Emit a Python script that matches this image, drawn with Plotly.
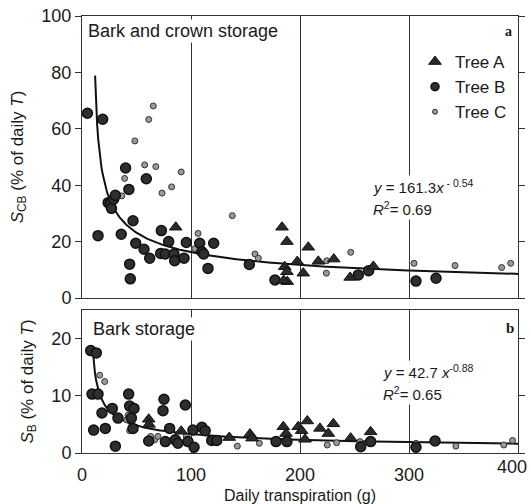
import numpy as np
import plotly.graph_objects as go
from plotly.subplots import make_subplots

# ---------------- data ----------------
# Panel a: bark and crown storage S_CB (% of daily T)
top_A_x = [86, 183.5, 188, 207.6, 186, 188, 197.5, 203, 188.3, 185, 216.8, 231, 246, 267.3]
top_A_y = [25.1, 25.1, 20.0, 18.0, 11.1, 9.3, 12.9, 8.8, 5.8, 6.2, 13.0, 13.8, 7.3, 11.2]

top_B_x = [5, 19, 14.7, 24, 26, 27, 29, 30.6, 40, 43, 46.8, 36, 43.7, 44.3, 49.3, 56.9, 59,
           62.1, 72.8, 72.2, 76.4, 79.5, 84.4, 85, 93.6, 95.7, 108, 110, 111.6, 115.6, 120.8,
           153.5, 177, 253.5, 263, 306.4, 324.8]
top_B_y = [65.5, 63.4, 22.1, 33.8, 33.6, 31.8, 35.0, 36.4, 46.1, 38.5, 27.4, 22.6, 12.0, 6.8,
           19.4, 17.3, 42.3, 14.1, 23.9, 15.8, 15.6, 20.0, 15.6, 13.2, 14.1, 19.7, 19.4, 16.4,
           15.6, 10.5, 19.4, 11.9, 6.4, 8.2, 9.7, 6.0, 7.0]

top_C_x = [65.4, 61.2, 48.5, 57.5, 67.7, 91, 82.2, 73.4, 39.1, 36.5, 137.9, 106.5, 158.7,
           161.8, 224.2, 224.5, 246.5, 304.6, 342.2, 385, 393.3, 103.5]
top_C_y = [68.1, 63.3, 55.7, 47.2, 46.6, 44.7, 39.4, 37.2, 42.4, 36.2, 29.2, 22.9, 15.6,
           14.1, 8.8, 13.2, 16.2, 12.3, 11.5, 10.8, 12.3, 17.5]

# Panel b: bark storage S_B (% of daily T)
bot_A_x = [61.2, 61.5, 91, 135.1, 154.1, 156, 184.7, 187.2, 198.4, 201.5, 206.7, 204.6,
           218.3, 230.6, 226, 246.5, 264.8]
bot_A_y = [5.9, 5.0, 3.8, 2.7, 3.3, 2.6, 4.6, 3.4, 4.6, 3.9, 5.6, 2.4, 4.3, 5.1, 3.4, 2.6, 3.7]

bot_B_x = [8, 13.1, 9.2, 14.7, 10.7, 21.4, 18.3, 27.8, 30.6, 33, 42.8, 43.7, 47.7, 45.3,
           46.8, 75.2, 74.3, 94.8, 61.2, 76.5, 80.4, 85.6, 88, 97.2, 102.8, 101.8, 110, 113,
           119, 123.6, 178, 188, 255.7, 264.8, 306.4, 323.9]
bot_B_y = [17.9, 17.5, 10.3, 10.3, 4.0, 4.3, 7.0, 7.8, 1.2, 6.1, 10.3, 8.2, 7.8, 6.1, 4.3,
           9.4, 7.4, 8.4, 2.1, 2.0, 4.3, 2.3, 1.7, 2.0, 1.0, 4.0, 4.5, 3.9, 2.2, 2.2, 2.0, 2.0,
           1.1, 2.0, 1.0, 2.1]

bot_C_x = [16.2, 20.8, 42.2, 41, 43.7, 63, 66.7, 69.7, 95.7, 142.5, 162.7, 225, 233.6, 255,
           306.4, 343, 387, 395]
bot_C_y = [13.6, 12.5, 6.6, 5.8, 3.9, 2.9, 2.3, 2.9, 2.9, 1.2, 1.7, 1.4, 1.8, 2.0, 1.7,
           1.2, 1.4, 2.2]

# fitted trend curves as drawn: y = a * (x - c) ** b
fit_top = dict(a=118.0, c=9.5, b=-0.44, x0=12, x1=400)
fit_bot = dict(a=30.4, c=7.0, b=-0.49, x0=10, x1=400)

x_ticks = [0, 100, 200, 300, 400]
x_tick_labels = ["0", "100", "200", "300", ""]   # "400" is placed as a note (kept inside the page)
top_y_ticks = [0, 20, 40, 60, 80, 100]
bot_y_ticks = [0, 10, 20]

# ---------------- figure ----------------
W, H = 531, 504
ML, MR, MT, MB = 82, 13, 16, 51
plot_h = H - MT - MB
top_dom = [(453 - 298) / plot_h, 1.0]
bot_dom = [0.0, (453 - 310) / plot_h]

fig = make_subplots(rows=2, cols=1, shared_xaxes=False)
FONT = "Liberation Sans, Arial, sans-serif"
INK = "#1a1a1a"

sty_A = dict(symbol="triangle-up", size=11, color="#2a2a2a", line=dict(color="#111", width=1))
sty_B = dict(symbol="circle", size=10, color="#2e2e2e", line=dict(color="#111", width=1.5))
sty_C = dict(symbol="circle", size=6, color="#9a9a9a", line=dict(color="#333", width=1))


def curve(p):
    xs = np.linspace(p["x0"], p["x1"], 400)
    return xs, p["a"] * (xs - p["c"]) ** p["b"]


for row, (ax, ay, bx, by, cx, cy, fit) in enumerate([
        (top_A_x, top_A_y, top_B_x, top_B_y, top_C_x, top_C_y, fit_top),
        (bot_A_x, bot_A_y, bot_B_x, bot_B_y, bot_C_x, bot_C_y, fit_bot)], start=1):
    fx, fy = curve(fit)
    fig.add_trace(go.Scatter(x=fx, y=fy, mode="lines", line=dict(color="#111", width=2),
                             showlegend=False, hoverinfo="skip"), row=row, col=1)
    fig.add_trace(go.Scatter(x=cx, y=cy, mode="markers", marker=sty_C, name="Tree C",
                             showlegend=False), row=row, col=1)
    fig.add_trace(go.Scatter(x=bx, y=by, mode="markers", marker=sty_B, name="Tree B",
                             showlegend=False), row=row, col=1)
    fig.add_trace(go.Scatter(x=ax, y=ay, mode="markers", marker=sty_A, name="Tree A",
                             showlegend=False), row=row, col=1)

# legend entries (shown once, in the order of the reference)
for name, sty in [("Tree A", sty_A), ("Tree B", dict(sty_B, size=8)), ("Tree C", dict(sty_C, size=5))]:
    fig.add_trace(go.Scatter(x=[None], y=[None], mode="markers", marker=sty, name=name,
                             showlegend=True), row=1, col=1)

axis_common = dict(showline=True, linecolor="#333", linewidth=1, mirror=True,
                   zeroline=False, automargin=False,
                   tickfont=dict(family=FONT, size=18, color=INK))

fig.update_xaxes(range=[0, 400], tickvals=x_ticks, ticktext=x_tick_labels, showgrid=True,
                 gridcolor="#333", gridwidth=1, ticks="", ticklabelstandoff=5, **axis_common)
fig.update_xaxes(showticklabels=False, row=1, col=1)
fig.update_xaxes(title=dict(text="Daily transpiration (g)", font=dict(family=FONT, size=16, color=INK),
                            standoff=10), row=2, col=1)

fig.update_yaxes(showgrid=False, ticks="outside", ticklen=6, tickcolor="#333", **axis_common)
fig.update_yaxes(mirror="ticks")
fig.update_yaxes(range=[0, 100], tickvals=top_y_ticks, domain=top_dom, row=1, col=1,
                 title=dict(text="<i>S</i><sub>CB</sub> (% of daily <i>T</i>)",
                            font=dict(family=FONT, size=17, color=INK), standoff=13))
fig.update_yaxes(range=[0, 25], tickvals=bot_y_ticks, domain=bot_dom, row=2, col=1,
                 title=dict(text="<i>S</i><sub>B</sub> (% of daily <i>T</i>)",
                            font=dict(family=FONT, size=17, color=INK), standoff=13))


def px_to_paper(px, py):
    return (px - ML) / (W - ML - MR), (H - MB - py) / plot_h


def note(text, px, py, size=17, xanchor="left", family=FONT, bg=None):
    x, y = px_to_paper(px, py)
    fig.add_annotation(x=x, y=y, xref="paper", yref="paper", text=text, showarrow=False,
                       xanchor=xanchor, yanchor="middle",
                       font=dict(family=family, size=size, color=INK),
                       bgcolor=bg)


note("Bark and crown storage", 86, 31, size=18, bg="white")
note("<b>a</b>", 514, 31, size=14, xanchor="right", family="Liberation Serif, serif")
note("<i>y</i> = 161.3<i>x</i><sup> - 0.54</sup>", 371, 186, size=15, bg="white")
note("<i>R</i><sup>2</sup>= 0.69", 371, 208, size=15, bg="white")

note("Bark storage", 91, 329, size=18, bg="white")
note("<b>b</b>", 516, 328, size=15, xanchor="right", family="Liberation Serif, serif")
note("<i>y</i> = 42.7 <i>x</i><sup>-0.88</sup>", 381, 371, size=15, bg="white")
note("<i>R</i><sup>2</sup>= 0.65", 381, 393, size=15, bg="white")
note("400", 529, 467, size=18, xanchor="right")

lx, ly = px_to_paper(512, 44)
fig.update_layout(
    width=W, height=H, margin=dict(l=ML, r=MR, t=MT, b=MB),
    paper_bgcolor="white", plot_bgcolor="white",
    font=dict(family=FONT, color=INK),
    legend=dict(x=lx, y=ly, xanchor="right", yanchor="top", bgcolor="rgba(0,0,0,0)",
                font=dict(family=FONT, size=17, color=INK), tracegroupgap=0,
                itemwidth=30),
)

fig.write_html("out.html")
